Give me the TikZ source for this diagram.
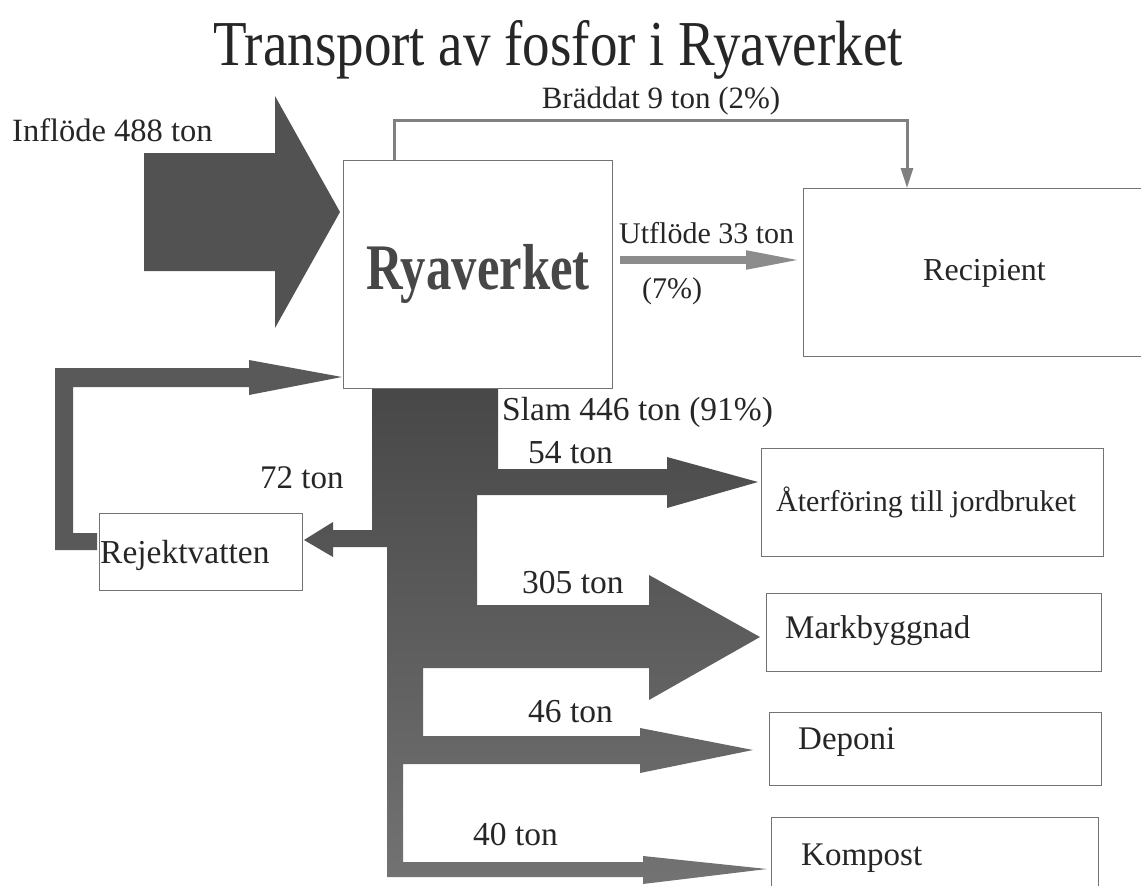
\documentclass[tikz,border=0pt]{standalone}
\usepackage{graphicx}
\usepackage{fontspec}
\setmainfont{Liberation Serif}
\usetikzlibrary{arrows.meta}

\begin{document}
\begin{tikzpicture}[x=1pt, y=-1pt,
  box/.style={draw=black!55, line width=0.8pt, anchor=north west, inner sep=0pt},
  lbl/.style={font=\fontsize{#1}{40}\selectfont, text=black!85, inner sep=0pt, anchor=base west},
  lbl/.default=33,
  bigflow/.style={fill=black!68},
  thinflow/.style={draw=black!45, line width=8pt, -{Triangle[length=57pt, width=17pt]}},
  brdflow/.style={draw=black!50, line width=3pt, -{Triangle[length=20pt, width=12pt]}}]
\useasboundingbox (0,0) rectangle (1141,886);

%% --- title ---
\node[lbl, anchor=base] (title) at (558,65)
  {\fontsize{64}{70}\selectfont\scalebox{0.86}[1]{Transport av fosfor i Ryaverket}};

%% --- flows (filled shapes) ---
% inflow
\fill[bigflow] (144,153) -- (275,153) -- (275,96) -- (340,212) -- (275,328)
  -- (275,271) -- (144,271) -- cycle;
% reject water back to the plant
\fill[fill=black!65] (97,533) -- (73,533) -- (73,387) -- (249,387) -- (249,395)
  -- (342,377) -- (249,360) -- (249,368) -- (55,368) -- (55,550) -- (97,550) -- cycle;
% sludge tree
\shade[top color=black!72, bottom color=black!55]
  (372,388) -- (498,388) -- (498,469) -- (667,469) -- (667,457) -- (758,482)
  -- (667,508) -- (667,495) -- (477,495) -- (477,605) -- (649,605) -- (649,575)
  -- (760,637) -- (649,700) -- (649,668) -- (423,668) -- (423,736) -- (640,736)
  -- (640,728) -- (753,750) -- (640,773) -- (640,764) -- (403,764) -- (403,862)
  -- (643,862) -- (643,856) -- (767,869) -- (643,884) -- (643,877) -- (387,877)
  -- (387,547) -- (333,547) -- (333,557) -- (304,540) -- (333,522) -- (333,530)
  -- (372,530) -- cycle;

%% --- boxes ---
\node[box, minimum width=269, minimum height=228, text=black!72] (rya) at (343,160)
  {\fontsize{65}{70}\selectfont\bfseries\scalebox{0.78}[1]{Ryaverket}};
\node[box, minimum width=340, minimum height=168] (rec)  at (803,188) {};
\node[box, minimum width=203, minimum height=77]  (rej)  at (99,513)  {};
\node[box, minimum width=342, minimum height=108] (atf)  at (761,448) {};
\node[box, minimum width=335, minimum height=78]  (mark) at (766,593) {};
\node[box, minimum width=332, minimum height=73]  (dep)  at (769,712) {};
\node[box, minimum width=327, minimum height=95]  (komp) at (771,817) {};

%% --- box texts ---
\node[lbl=32]   (recT)  at (923,280) {Recipient};
\node[lbl=33.5] (rejT)  at (100,563) {Rejektvatten};
\node[lbl=30]   (atfT)  at (776,511) {Återföring till jordbruket};
\node[lbl]      (markT) at (785,638) {Markbyggnad};
\node[lbl]      (depT)  at (798,749) {Deponi};
\node[lbl]      (kompT) at (801,865) {Kompost};

%% --- thin flows ---
\draw[brdflow] (rya.north -| 394,0) |- (907,120) -- (rec.north -| 907,0);
\draw[thinflow] (620,260) -- (rec.west |- 0,260);

%% --- flow labels ---
\node[lbl=32.5] (inflT) at (12,141)  {Inflöde 488 ton};
\node[lbl=31, anchor=base] (brdT) at (661,108) {Bräddat 9 ton (2\%)};
\node[lbl=30]   (utfT)  at (619,243) {Utflöde 33 ton};
\node[lbl=30]   (utfP)  at (642,298) {(7\%)};
\node[lbl=33.5] (slamT) at (502,420) {Slam 446 ton (91\%)};
\node[lbl]      (t72)   at (260,488) {72 ton};
\foreach \t/\x/\y in {54/528/463, 305/522/593, 46/528/722, 40/473/845}{
  \node[lbl=33.5] (t\t) at (\x,\y) {\t\ ton};
}
\end{tikzpicture}
\end{document}
